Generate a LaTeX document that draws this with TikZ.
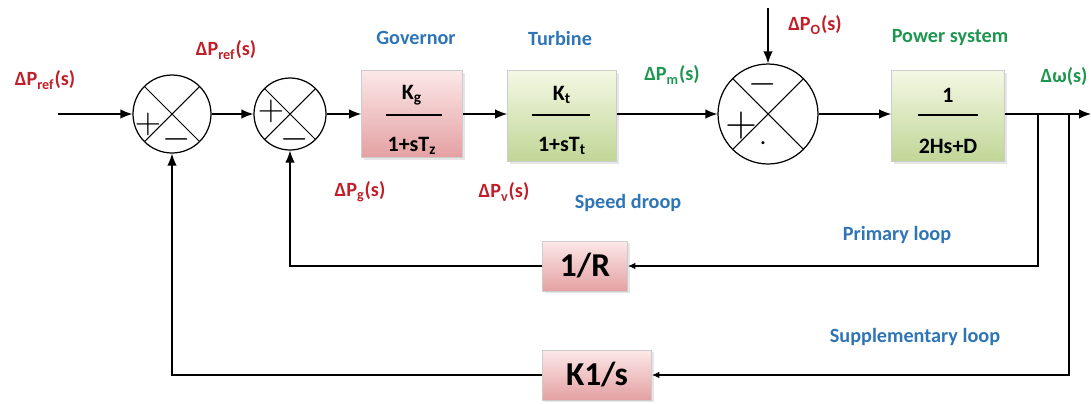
\documentclass[tikz,border=0pt]{standalone}
\usepackage{fontspec}
\setmainfont{Carlito}
\usetikzlibrary{arrows.meta,shadows}
\definecolor{lblred}{RGB}{192,30,40}
\definecolor{lblblue}{RGB}{46,117,182}
\definecolor{lblgreen}{RGB}{30,150,80}
\definecolor{pinklt}{RGB}{252,232,232}
\definecolor{pinkdk}{RGB}{228,160,162}
\definecolor{greenlt}{RGB}{244,248,228}
\definecolor{greendk}{RGB}{192,214,150}

\begin{document}
\begin{tikzpicture}[
  x=0.02cm,y=-0.02cm,
  every node/.style={inner sep=1.5pt,font=\fontsize{11.5}{13}\selectfont\bfseries},
  sumj/.style={circle,draw=black,line width=0.7pt,inner sep=0pt,
    path picture={\draw[line width=0.6pt] (path picture bounding box.north west) -- (path picture bounding box.south east)
      (path picture bounding box.north east) -- (path picture bounding box.south west);}},
  sgn/.style={inner sep=0pt,font=\huge},
  bigsgn/.style={inner sep=0pt,font=\Huge},
  pblock/.style={draw=black!20,top color=pinklt,bottom color=pinkdk,
    drop shadow={opacity=0.2,shadow xshift=1.2pt,shadow yshift=-1.2pt}},
  gblock/.style={draw=black!20,top color=greenlt,bottom color=greendk,
    drop shadow={opacity=0.2,shadow xshift=1.2pt,shadow yshift=-1.2pt}},
  frac/.style={font=\fontsize{12.5}{14}\selectfont\bfseries},
  fbox/.style={pblock,font=\fontsize{19}{21}\selectfont\bfseries},
  arr/.style={-{Latex[length=2.4mm,width=1.9mm]},line width=0.7pt},
  fbarr/.style={-{Latex[length=1.5mm,width=1.3mm]},line width=0.7pt},
  lred/.style={text=lblred},
  lblue/.style={text=lblblue},
  lgreen/.style={text=lblgreen}
]
\useasboundingbox (0,0) rectangle (1091,403);
% ================= forward path =================
\coordinate (in) at (58,114);
\node[sumj,minimum size=1.56cm] (s1) at (172,114) {};
\node[sgn] (s1p) at (148,124) {$+$};
\node[sgn] (s1m) at (177,139) {$-$};
\node[sumj,minimum size=1.44cm] (s2) at (290,114) {};
\node[sgn] (s2p) at (271,111) {$+$};
\node[sgn] (s2m) at (295,139) {$-$};
\node[pblock,minimum width=2.02cm,minimum height=1.74cm] (gov) at (412,114) {};
\node[frac] (govn) at (412,95) {K\textsubscript{g}};
\node[frac] (govd) at (412,146) {1+sT\textsubscript{z}};
\draw[line width=0.7pt] (386,115) -- (442,115);
\node[gblock,minimum width=2.18cm,minimum height=1.82cm] (tur) at (562,116) {};
\node[frac] (turn) at (562,95) {K\textsubscript{t}};
\node[frac] (turd) at (562,146) {1+sT\textsubscript{t}};
\draw[line width=0.7pt] (532,115) -- (590,115);
\node[sumj,minimum size=2.0cm] (s3) at (768,114) {};
\node[sgn] (s3m) at (763,84) {$-$};
\node[bigsgn] (s3p) at (741,126) {$+$};
\node[inner sep=0pt] (s3d) at (763,143) {.};
\coordinate (dist) at (768,8);
\node[gblock,minimum width=2.26cm,minimum height=1.82cm] (pow) at (948,116) {};
\node[frac] (pown) at (948,95) {1};
\node[frac] (powd) at (948,146) {2Hs+D};
\draw[line width=0.7pt] (918,115) -- (978,115);
\coordinate (out) at (1091,114);
\coordinate (b1) at (1038,114);
\coordinate (b2) at (1069,114);
\draw[arr] (in) -- (s1);
\draw[arr] (s1) -- (s2);
\draw[arr] (s2) -- (gov);
\draw[arr] (gov) -- (tur.west |- gov);
\draw[arr] (tur.east |- s3) -- (s3);
\draw[arr] (dist) -- (s3);
\draw[arr] (s3) -- (pow.west |- s3);
\draw[arr] (pow.east |- out) -- (out);
% ================= feedback loops =================
\node[fbox,minimum width=1.7cm,minimum height=1.0cm] (rinv) at (585,266) {1/R};
\node[fbox,minimum width=2.18cm,minimum height=1.0cm] (kint) at (597,375) {K1/s};
\draw[fbarr] (b1) |- (rinv);
\draw[arr] (rinv) -| (s2);
\draw[fbarr] (b2) |- (kint);
\draw[arr] (kint) -| (s1);
% ================= labels =================
\node[lred] (lref1) at (45,80) {ΔP\textsubscript{ref}(s)};
\node[lred] (lref2) at (226,50) {ΔP\textsubscript{ref}(s)};
\node[lblue] (lgov) at (416,38) {Governor};
\node[lblue] (ltur) at (560,38) {Turbine};
\node[lgreen] (lpm) at (672,75) {ΔP\textsubscript{m}(s)};
\node[lred] (lpo) at (815,25) {ΔP\textsubscript{O}(s)};
\node[lgreen] (lpow) at (950,38) {Power system};
\node[lgreen] (lw) at (1064,77) {Δω(s)};
\node[lred] (lpg) at (360,192) {ΔP\textsubscript{g}(s)};
\node[lred] (lpv) at (504,192) {ΔP\textsubscript{v}(s)};
\node[lblue] (ldroop) at (628,203) {Speed droop};
\node[lblue] (lprim) at (897,235) {Primary loop};
\node[lblue] (lsupp) at (915,337) {Supplementary loop};
\end{tikzpicture}
\end{document}
